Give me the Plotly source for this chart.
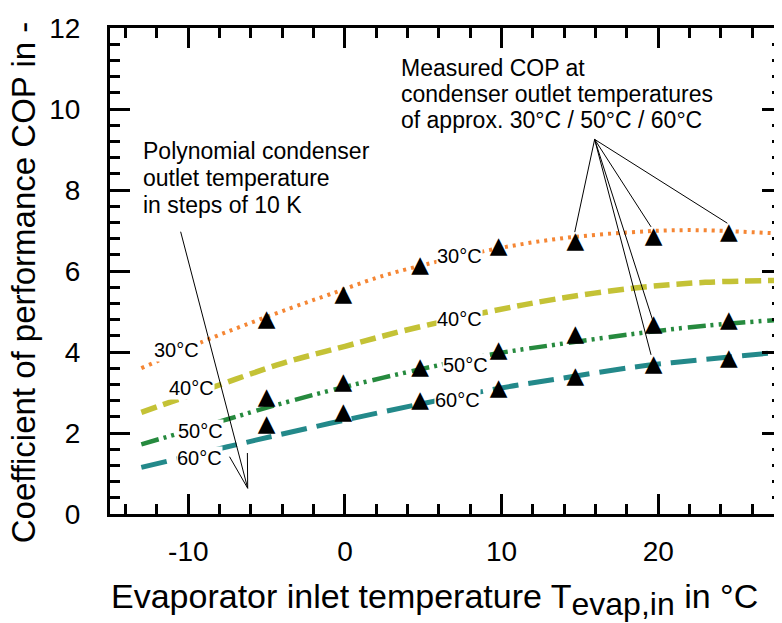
import plotly.graph_objects as go

# ---------------- data ----------------
# measured COP (triangles)
meas_x = [-5.0, -0.1, 4.8, 9.8, 14.7, 19.7, 24.5]
meas_30 = [4.78, 5.41, 6.12, 6.58, 6.71, 6.83, 6.94]
meas_50 = [2.86, 3.23, 3.60, 4.01, 4.41, 4.66, 4.76]
meas_60 = [2.19, 2.50, 2.78, 3.07, 3.37, 3.67, 3.81]

# polynomial curves (condenser outlet temperature 30/40/50/60 °C)
poly30_x = [-13, -9, -6.5, -3.5, -1, 2, 4, 9, 13.5, 18, 22, 27.9]
poly30_y = [3.60, 4.27, 4.65, 5.08, 5.42, 5.83, 6.05, 6.50, 6.79, 6.95, 7.01, 6.92]
poly40_x = [-13, -8.5, -4, 0, 4, 9, 13.5, 18.5, 23, 27.9]
poly40_y = [2.51, 3.12, 3.72, 4.14, 4.55, 4.98, 5.31, 5.58, 5.72, 5.77]
poly50_x = [-13, -7.5, -4.5, 0, 5, 9.5, 13.6, 18.5, 23, 27.9]
poly50_y = [1.72, 2.34, 2.68, 3.14, 3.59, 3.95, 4.19, 4.45, 4.65, 4.80]
poly60_x = [-13, -7.5, -4.5, 0, 5, 9.8, 13.5, 18.5, 23, 27.9]
poly60_y = [1.15, 1.66, 1.93, 2.32, 2.73, 3.10, 3.33, 3.63, 3.82, 4.00]

x_tickvals = [-10, 0, 10, 20]
x_ticktext = ["-10", "0", "10", "20"]
y_tickvals = [0, 2, 4, 6, 8, 10, 12]
y_ticktext = ["0", "2", "4", "6", "8", "10", "12"]

curve_labels = ["30°C", "40°C", "50°C", "60°C"]

FONT = "Liberation Sans, Arial, sans-serif"
C30, C40, C50, C60 = "#F58634", "#C4C236", "#268A3E", "#23898A"

fig = go.Figure()

fig.add_trace(go.Scatter(x=poly30_x, y=poly30_y, mode="lines", line_shape="spline",
                         line=dict(color=C30, width=4, dash="3px,5px"), hoverinfo="skip"))
fig.add_trace(go.Scatter(x=poly40_x, y=poly40_y, mode="lines", line_shape="spline",
                         line=dict(color=C40, width=5.5, dash="16px,7px"), hoverinfo="skip"))
fig.add_trace(go.Scatter(x=poly50_x, y=poly50_y, mode="lines", line_shape="spline",
                         line=dict(color=C50, width=4.5, dash="18px,5px,3px,5px,3px,6px"), hoverinfo="skip"))
fig.add_trace(go.Scatter(x=poly60_x, y=poly60_y, mode="lines", line_shape="spline",
                         line=dict(color=C60, width=5, dash="26px,10px"), hoverinfo="skip"))

for ys in (meas_30, meas_50, meas_60):
    fig.add_trace(go.Scatter(x=meas_x, y=ys, mode="text", text=["▲"] * len(meas_x),
                             textposition="middle center",
                             textfont=dict(family="DejaVu Sans", size=23, color="black"),
                             hoverinfo="skip"))

# ---------------- annotations ----------------
ann = []
label_pos = [
    (7.29, 6.37, 0), (7.29, 4.81, 1), (7.67, 3.68, 2), (7.18, 2.81, 3),
    (-10.76, 4.05, 0), (-9.81, 3.10, 1), (-9.24, 2.06, 2), (-9.28, 1.38, 3),
]
for lx, ly, i in label_pos:
    ann.append(dict(x=lx, y=ly, xref="x", yref="y", text=curve_labels[i], showarrow=False,
                    xanchor="center", yanchor="middle", bgcolor="white", borderpad=0,
                    font=dict(family=FONT, size=20, color="black")))

poly_lines = ["Polynomial condenser", "outlet temperature", "in steps of 10 K"]
poly_y = [8.956, 8.296, 7.637]
for t, yy in zip(poly_lines, poly_y):
    ann.append(dict(x=-13.0, y=yy, xref="x", yref="y", text=t, showarrow=False,
                    xanchor="left", yanchor="middle",
                    font=dict(family=FONT, size=23, color="black")))

meas_lines = ["Measured COP at", "condenser outlet temperatures", "of approx. 30°C / 50°C / 60°C"]
meas_y = [11.01, 10.38, 9.72]
for t, yy in zip(meas_lines, meas_y):
    ann.append(dict(x=3.48, y=yy, xref="x", yref="y", text=t, showarrow=False,
                    xanchor="left", yanchor="middle",
                    font=dict(family=FONT, size=23, color="black")))

ann.append(dict(x=-0.1275, y=0.4774, xref="paper", yref="paper",
                text="Coefficient of performance COP in -", textangle=-90, showarrow=False,
                xanchor="center", yanchor="middle", font=dict(family=FONT, size=33, color="black")))
ann.append(dict(x=0.483, y=-0.175, xref="paper", yref="paper",
                text="Evaporator inlet temperature T<sub><span style='font-size:32px'>evap,in</span></sub> in °C",
                showarrow=False,
                xanchor="center", yanchor="middle", font=dict(family=FONT, size=34, color="black")))

# leader lines
shapes = []
poly_tip = (-6.21, 0.635)
for sx, sy in [(-10.49, 6.97), (-7.37, 1.415), (-6.23, 1.506)]:
    shapes.append(dict(type="line", xref="x", yref="y", x0=sx, y0=sy, x1=poly_tip[0], y1=poly_tip[1],
                       line=dict(color="black", width=1)))
meas_origin = (15.94, 9.25)
for ex, ey in [(14.67, 6.96), (19.54, 7.09), (24.41, 7.18), (19.64, 4.79), (19.54, 3.93)]:
    shapes.append(dict(type="line", xref="x", yref="y", x0=meas_origin[0], y0=meas_origin[1], x1=ex, y1=ey,
                       line=dict(color="black", width=1)))

fig.update_layout(
    width=782, height=623,
    margin=dict(l=102, r=5, t=20, b=117),
    paper_bgcolor="white", plot_bgcolor="white",
    showlegend=False,
    annotations=ann, shapes=shapes,
    xaxis=dict(range=[-15, 27.9], tickvals=x_tickvals, ticktext=x_ticktext,
               ticks="inside", ticklen=20, tickwidth=3, tickcolor="black",
               showline=True, linewidth=3, linecolor="black", mirror="allticks",
               showgrid=False, zeroline=False, ticklabelstandoff=10,
               minor=dict(dtick=2, tick0=0, ticks="inside", ticklen=10, tickwidth=3, tickcolor="black", showgrid=False),
               tickfont=dict(family=FONT, size=28, color="black")),
    yaxis=dict(range=[0, 12], tickvals=y_tickvals, ticktext=y_ticktext, ticksuffix="\u00a0",
               ticks="inside", ticklen=20, tickwidth=3, tickcolor="black",
               showline=True, linewidth=3, linecolor="black", mirror="allticks",
               showgrid=False, zeroline=False, ticklabelstandoff=21,
               minor=dict(dtick=0.4, tick0=0, ticks="inside", ticklen=10, tickwidth=3, tickcolor="black", showgrid=False),
               tickfont=dict(family=FONT, size=28, color="black")),
)

fig.write_html("out.html")
